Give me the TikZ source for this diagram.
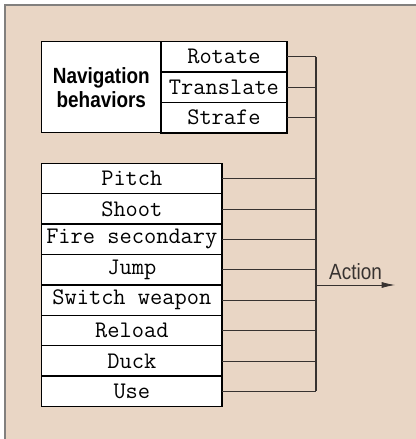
\documentclass[tikz,border=0pt]{standalone}
\usepackage{fontspec}
\newfontfamily\condsans[FakeStretch=0.86]{Liberation Sans}
\usepackage{xcolor}
\usetikzlibrary{
    arrows.meta,
    positioning
}
\definecolor{panel}{RGB}{233,214,197}
\definecolor{rim}{RGB}{130,128,126}
\definecolor{wire}{RGB}{55,50,48}
\tikzset{
    cmdbox/.style={draw=black, fill=white, line width=1pt, outer sep=0pt, inner sep=0pt,
        minimum width=94.5pt, minimum height=22.8pt,
        font=\fontsize{17.8}{18}\selectfont\ttfamily},
    actbox/.style={cmdbox, minimum width=135.2pt},
    navcell/.style={draw=black, fill=white, line width=1pt, outer sep=0pt,
        minimum width=89.5pt, minimum height=68.3pt, align=center,
        font=\fontsize{16.5}{18}\selectfont\condsans\bfseries},
    wire/.style={draw=wire, line width=0.6pt}
}

\begin{document}
\begin{tikzpicture}[x=0.75pt, y=-0.75pt]
                                % frame
                                \useasboundingbox (0, 0) rectangle (416, 439);
                                \fill[panel] (4.7, 4.7) rectangle (416, 439);
                                \draw[rim, line width=1.2pt] (4.7, 439) -- (4.7, 4.7) -- (416, 4.7);

                                % navigation behaviors
                                \node[navcell] (nav) at (101.3, 87.2) {Navigation\\behaviors};
                                \node[cmdbox, anchor=north west] (rotate) at (nav.north east) {Rotate};
                                \node[cmdbox, below=0pt of rotate] (translate) {Translate};
                                \node[cmdbox, below=0pt of translate] (strafe) {Strafe};

                                % other actions
                                \node[actbox, anchor=north west] (pitch) at (41.7, 163.3) {Pitch};
                                \node[actbox, below=0pt of pitch] (shoot) {Shoot};
                                \node[actbox, below=0pt of shoot] (fire) {Fire secondary};
                                \node[actbox, below=0pt of fire] (jump) {Jump};
                                \node[actbox, below=0pt of jump] (switch) {Switch weapon};
                                \node[actbox, below=0pt of switch] (reload) {Reload};
                                \node[actbox, below=0pt of reload] (duck) {Duck};
                                \node[actbox, below=0pt of duck] (use) {Use};

                                % bus
                                \coordinate (bus) at (316, 0);
                                \coordinate (split) at (316, 285);
                                \coordinate (out) at (395, 285);
                                \draw[wire]
                                (rotate.east) -- (rotate.east -| bus)
                                (translate.east) -- (translate.east -| bus)
                                (strafe.east) -- (strafe.east -| bus)
                                (pitch.east) -- (pitch.east -| bus)
                                (shoot.east) -- (shoot.east -| bus)
                                (fire.east) -- (fire.east -| bus)
                                (jump.east) -- (jump.east -| bus)
                                (switch.east) -- (switch.east -| bus)
                                (reload.east) -- (reload.east -| bus)
                                (duck.east) -- (duck.east -| bus)
                                (use.east) -- (use.east -| bus);
                                \draw[wire, line width=0.9pt] (rotate.east -| bus) -- (use.east -| bus);
                                \draw[wire, -{Latex[length=10pt, width=4.5pt]}] (split) -- (out)
                                node[midway, above, text=wire, font=\fontsize{16.5}{18}\selectfont\condsans] {Action};
                            \end{tikzpicture}
\end{document}
